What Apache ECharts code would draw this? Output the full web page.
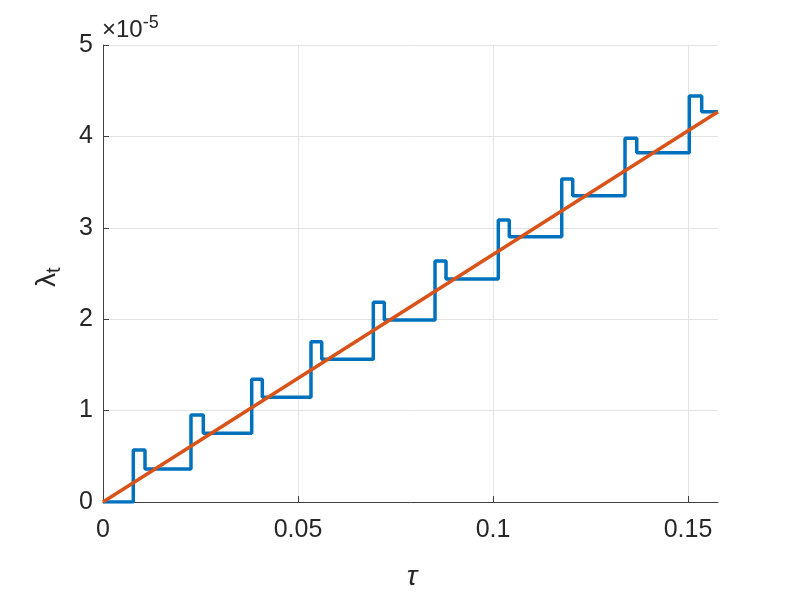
<!DOCTYPE html>
<html>
<head>
<meta charset="utf-8">
<script src="https://cdn.jsdelivr.net/npm/echarts@6/dist/echarts.min.js"></script>
<style>
  html, body { margin: 0; padding: 0; background: #fff; }
  #chart { width: 793px; height: 595px; }
</style>
</head>
<body>
<div id="chart"></div>
<script>
// step corners of lambda_t (y in units of 1e-5)
const stepX = [0, 0.00777, 0.00777, 0.01077, 0.01077,
  0.02256, 0.02256, 0.02572, 0.02572,
  0.03813, 0.03813, 0.04085, 0.04085,
  0.05333, 0.05333, 0.05608, 0.05608,
  0.06931, 0.06931, 0.07213, 0.07213,
  0.08513, 0.08513, 0.08795, 0.08795,
  0.10136, 0.10136, 0.10418, 0.10418,
  0.11762, 0.11762, 0.12044, 0.12044,
  0.13385, 0.13385, 0.13685, 0.13685,
  0.15033, 0.15033, 0.15351, 0.15351, 0.15769]
const stepY = [0, 0, 0.569, 0.569, 0.361,
  0.361, 0.952, 0.952, 0.752,
  0.752, 1.342, 1.342, 1.146,
  1.146, 1.754, 1.754, 1.561,
  1.561, 2.185, 2.185, 1.991,
  1.991, 2.637, 2.637, 2.440,
  2.440, 3.085, 3.085, 2.903,
  2.903, 3.534, 3.534, 3.351,
  3.351, 3.979, 3.979, 3.822,
  3.822, 4.442, 4.442, 4.270, 4.270]
const lineX = [0, 0.15769]
const lineY = [0, 4.27]
const xTicks = [0, 0.05, 0.1, 0.15]

const zip = (xs, ys) => xs.map((x, i) => [x, ys[i]])

const chart = echarts.init(document.getElementById('chart'))
const sans = 'Liberation Sans, Arial, sans-serif'
const labelFont = { fontFamily: sans, fontSize: 25, color: '#262626' }

const option = {
  animation: false,
  grid: { left: 103, right: 75, top: 45, bottom: 93 },
  xAxis: {
    type: 'value',
    min: 0,
    max: 0.15769,
    axisLine: { lineStyle: { color: '#404040', width: 1 } },
    axisTick: { inside: true, length: 6, lineStyle: { color: '#404040' }, customValues: xTicks },
    axisLabel: Object.assign({ margin: 16, customValues: xTicks, formatter: v => String(v) }, labelFont),
    splitLine: { show: true, lineStyle: { color: '#e3e3e3', width: 1 }, customValues: xTicks }
  },
  yAxis: {
    type: 'value',
    min: 0,
    max: 5,
    interval: 1,
    axisLine: { show: true, lineStyle: { color: '#404040', width: 1 } },
    axisTick: { show: true, inside: true, length: 6, lineStyle: { color: '#404040' } },
    axisLabel: Object.assign({ margin: 10 }, labelFont),
    splitLine: { show: true, lineStyle: { color: '#e3e3e3', width: 1 } }
  },
  series: [
    {
      type: 'line',
      data: zip(stepX, stepY),
      showSymbol: false,
      lineStyle: { color: '#0072BD', width: 3.5 },
      z: 2
    },
    {
      type: 'line',
      data: zip(lineX, lineY),
      showSymbol: false,
      lineStyle: { color: '#D95319', width: 3.5 },
      z: 3
    }
  ],
  graphic: [
    {
      type: 'text',
      left: 102,
      top: 14,
      style: {
        text: '{a|×10}{b|-5}',
        rich: {
          a: { fontFamily: sans, fontSize: 24, fill: '#262626' },
          b: { fontFamily: sans, fontSize: 18, fill: '#262626', verticalAlign: 'top', padding: [0, 0, 14, 0] }
        }
      }
    },
    {
      type: 'text',
      x: 412,
      y: 577,
      style: {
        text: 'τ',
        font: 'italic 28px "Liberation Sans", Arial, sans-serif',
        fill: '#262626',
        align: 'center',
        verticalAlign: 'middle'
      }
    },
    {
      type: 'text',
      x: 30,
      y: 287,
      rotation: Math.PI / 2,
      style: {
        text: '{a|λ}{b|t}',
        rich: {
          a: { fontFamily: sans, fontSize: 28, fill: '#262626' },
          b: { fontFamily: sans, fontSize: 20, fill: '#262626', padding: [14, 0, 0, 0] }
        }
      }
    }
  ]
}
chart.setOption(option)
</script>
</body>
</html>
